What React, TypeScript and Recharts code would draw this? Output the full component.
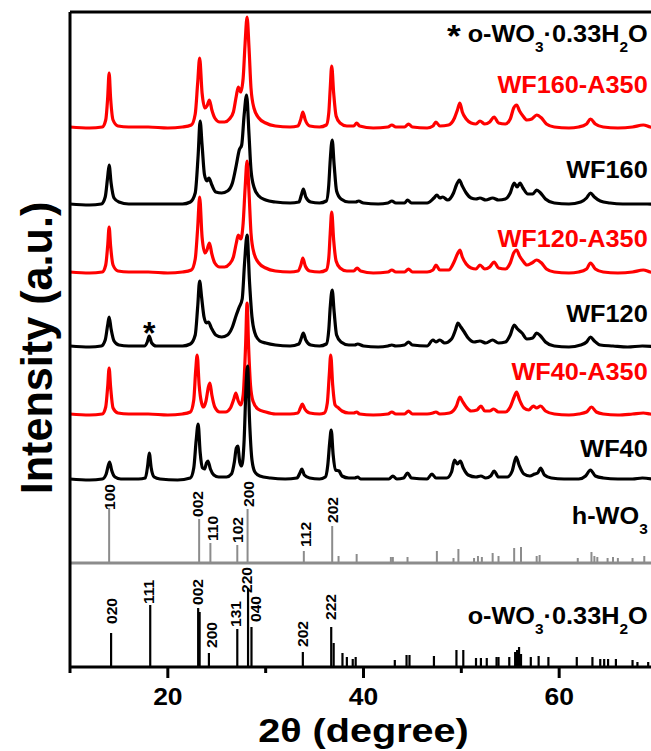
import React from 'react';
import { ComposedChart, Line, XAxis, YAxis, ReferenceLine, ReferenceDot, Label } from 'recharts';

const FONT = '"Liberation Sans", Arial, Helvetica, sans-serif';

// ---- XRD traces: [2θ, intensity above the trace's own baseline] ----
const wf160a350: [number, number][] = [
  [10,1],[12,0],[13.3,1],[13.65,8],[13.85,30],[14.0,55],[14.15,30],[14.4,8],[14.9,2],[16,1],[18,1],[20,0],[21.5,1],[22.4,3],[22.8,14],[23.05,45],[23.25,70],[23.5,35],[23.8,20],[24.0,22],[24.25,28],[24.5,18],[24.8,10],[25.3,6],[25.8,6],[26.3,9],[26.7,16],[27.0,32],[27.2,41],[27.45,36],[27.7,50],[27.9,85],[28.1,111],[28.3,80],[28.5,40],[28.8,20],[29.3,10],[30,5],[31,2],[32.5,1],[33.3,2],[33.6,9],[33.8,16],[34.05,8],[34.5,2],[35.5,1],[36.2,3],[36.45,15],[36.6,40],[36.75,62],[36.95,35],[37.2,12],[37.6,5],[38.3,2],[39.0,2],[39.3,5],[39.6,2],[41,0],[42.5,1],[42.9,3],[43.3,1],[44.2,1],[44.6,4],[45,1],[46.5,0],[47.1,2],[47.4,6],[47.8,2],[48.7,3],[49.3,10],[49.6,18],[49.85,25],[50.1,16],[50.5,9],[51,5],[51.5,4],[51.9,7],[52.4,4],[52.9,6],[53.35,11],[53.8,5],[54.5,4],[55.0,9],[55.35,20],[55.65,23],[55.95,17],[56.3,12],[56.7,8],[57.2,9],[57.7,13],[58.2,10],[58.7,4],[59.5,1],[61,0],[62,1],[62.8,4],[63.2,9],[63.7,4],[64.5,1],[66,0],[67.5,1],[68.6,3],[69.3,1],[70,0],
];
const wf160: [number, number][] = [
  [10,1],[12,0],[13.2,1],[13.6,8],[13.85,28],[14.0,40],[14.2,22],[14.5,7],[15,3],[16,1],[18,1],[20,1],[21.5,1],[22.3,3],[22.8,12],[23.1,50],[23.3,84],[23.5,60],[23.75,30],[24.0,24],[24.2,27],[24.5,20],[24.9,13],[25.5,12],[26.1,14],[26.6,22],[27.0,40],[27.3,55],[27.55,60],[27.8,90],[28.05,110],[28.3,70],[28.5,35],[28.8,18],[29.3,9],[30,5],[31,3],[32.5,2],[33.4,3],[33.65,10],[33.85,16],[34.1,8],[34.6,3],[35.5,2],[36.2,4],[36.45,20],[36.6,45],[36.8,65],[37.0,40],[37.25,14],[37.7,6],[38.5,3],[39.2,3],[39.5,4],[40,2],[41.5,1],[42.5,2],[42.9,4],[43.3,2],[44.2,2],[44.5,5],[44.9,2],[46.5,2],[47.2,7],[47.5,10],[47.8,7],[48.1,8],[48.6,5],[49.2,12],[49.5,20],[49.8,25],[50.1,19],[50.5,12],[51,7],[51.5,6],[51.9,7],[52.5,5],[53.2,7],[53.8,5],[54.5,6],[55.0,12],[55.4,22],[55.7,18],[56.0,22],[56.3,17],[56.8,11],[57.3,11],[57.7,15],[58.1,12],[58.6,6],[59.5,2],[61,1],[62.2,3],[62.8,7],[63.2,12],[63.6,8],[64.2,4],[65.2,2],[66.5,1],[68,1],[69,1],[70,0],
];
const wf120a350: [number, number][] = [
  [10,1],[12,0],[13.3,1],[13.65,8],[13.85,27],[14.0,46],[14.15,27],[14.4,8],[14.9,2],[16,1],[18,1],[20,0],[21.5,1],[22.4,3],[22.8,14],[23.05,45],[23.25,76],[23.5,36],[23.8,20],[24.0,23],[24.25,30],[24.5,19],[24.8,10],[25.3,6],[25.8,6],[26.3,9],[26.7,16],[27.0,30],[27.2,38],[27.45,34],[27.7,50],[27.9,85],[28.1,112],[28.3,80],[28.5,40],[28.8,20],[29.3,10],[30,5],[31,2],[32.5,1],[33.3,2],[33.6,8],[33.8,15],[34.05,7],[34.5,2],[35.5,1],[36.2,3],[36.45,15],[36.6,40],[36.75,61],[36.95,33],[37.2,12],[37.6,5],[38.3,2],[39.0,2],[39.35,5],[39.7,2],[41,0],[42.5,1],[42.9,3],[43.3,1],[44.2,1],[44.6,4],[45,1],[46.5,1],[47.1,3],[47.4,8],[47.8,3],[48.7,3],[49.3,12],[49.6,19],[49.85,23],[50.1,16],[50.5,9],[51,5],[51.5,4],[51.9,8],[52.4,4],[52.9,6],[53.35,11],[53.8,5],[54.5,4],[55.0,10],[55.35,20],[55.65,23],[55.95,17],[56.3,12],[56.7,8],[57.2,10],[57.7,13],[58.2,10],[58.7,4],[59.5,1],[61,0],[62,1],[62.8,4],[63.2,10],[63.7,4],[64.5,1],[66,0],[67.5,1],[68.6,3],[69.3,1],[70,0],
];
const wf120: [number, number][] = [
  [10,1],[12,0],[13.2,1],[13.6,7],[13.85,22],[14.0,30],[14.2,18],[14.5,6],[15,2],[16,1],[17.6,1],[17.9,5],[18.1,11],[18.35,4],[18.8,1],[20,1],[21.5,1],[22.3,3],[22.8,12],[23.05,40],[23.25,66],[23.45,50],[23.7,30],[23.95,24],[24.15,25],[24.45,19],[24.9,12],[25.5,10],[26.1,12],[26.6,20],[27.0,32],[27.3,40],[27.6,48],[27.85,85],[28.1,112],[28.35,65],[28.6,30],[28.9,14],[29.4,6],[30,4],[31,2],[32.5,1],[33.4,3],[33.65,9],[33.85,14],[34.1,7],[34.6,2],[35.5,1],[36.2,3],[36.45,17],[36.6,40],[36.8,57],[37.0,35],[37.25,12],[37.7,5],[38.5,2],[39.1,2],[39.4,3],[40,1],[41.5,0],[42.5,1],[42.9,2],[43.3,1],[44.2,2],[44.6,5],[45,2],[46.5,1],[47.1,7],[47.4,5],[47.8,7],[48.3,4],[49.0,8],[49.4,17],[49.65,24],[49.95,20],[50.3,15],[50.7,9],[51.3,5],[51.9,6],[52.5,4],[53.2,7],[53.8,4],[54.5,5],[55.0,12],[55.4,22],[55.75,18],[56.2,14],[56.7,8],[57.3,9],[57.7,14],[58.1,11],[58.6,5],[59.5,1],[61,0],[62.2,2],[62.8,5],[63.2,10],[63.6,6],[64.2,2],[65.5,1],[67,0],[68.5,1],[70,0],
];
const wf40a350: [number, number][] = [
  [10,1],[12,0],[13.3,1],[13.65,8],[13.85,28],[14.0,47],[14.15,28],[14.4,7],[14.9,2],[16,1],[18,1],[20,0],[21.5,1],[22.3,3],[22.65,15],[22.85,45],[23.0,60],[23.2,30],[23.45,12],[23.65,8],[23.9,14],[24.15,28],[24.3,32],[24.5,20],[24.8,8],[25.3,3],[25.9,3],[26.4,7],[26.75,16],[26.95,22],[27.2,14],[27.45,10],[27.7,20],[27.95,70],[28.1,112],[28.25,70],[28.45,30],[28.7,14],[29.2,6],[30,3],[31,1],[32.5,1],[33.3,2],[33.55,7],[33.75,11],[34.0,6],[34.5,2],[35.5,1],[36.0,2],[36.3,12],[36.5,40],[36.65,60],[36.85,30],[37.1,10],[37.45,7],[37.8,4],[38.5,2],[39.0,2],[39.3,3],[39.6,1],[41,0],[42.5,1],[42.9,3],[43.3,1],[44.2,1],[44.6,4],[45,1],[46.5,1],[47.1,2],[47.4,3],[47.8,1],[48.8,2],[49.5,9],[49.85,18],[50.1,14],[50.5,8],[51,4],[51.6,5],[52.0,9],[52.4,4],[52.9,4],[53.3,6],[53.8,3],[54.5,3],[55.0,8],[55.4,18],[55.65,23],[55.95,15],[56.4,7],[56.9,5],[57.35,9],[57.7,7],[58.1,9],[58.6,4],[59.5,1],[61,0],[62,1],[62.8,3],[63.3,8],[63.8,3],[64.5,1],[66,0],[67.5,1],[68.6,2],[69.3,1],[70,0],
];
const wf40: [number, number][] = [
  [10,1],[12,0],[13.3,1],[13.7,6],[13.9,14],[14.05,18],[14.25,10],[14.6,3],[15.2,1],[17,1],[17.7,2],[17.95,15],[18.1,27],[18.3,12],[18.6,3],[19.2,1],[21,0],[22.3,2],[22.65,12],[22.9,40],[23.1,56],[23.3,28],[23.55,12],[23.75,11],[23.95,17],[24.1,19],[24.35,11],[24.7,5],[25.2,3],[26,3],[26.5,6],[26.8,18],[27.0,32],[27.15,34],[27.35,18],[27.55,14],[27.8,40],[28.0,95],[28.15,114],[28.35,60],[28.6,20],[28.9,8],[29.4,4],[30.5,2],[32,1],[33.2,2],[33.5,7],[33.7,11],[33.95,5],[34.5,2],[35.5,1],[36.1,3],[36.35,15],[36.55,38],[36.7,50],[36.9,25],[37.15,10],[37.5,9],[37.8,4],[38.5,2],[39.1,2],[39.4,3],[39.7,1],[41,1],[42.6,1],[43.0,4],[43.4,1],[44.1,2],[44.5,7],[44.9,2],[46.5,1],[47.0,6],[47.4,2],[48.5,2],[49.0,8],[49.3,20],[49.6,16],[49.9,19],[50.2,12],[50.7,5],[51.5,3],[52.0,4],[52.5,2],[53.0,4],[53.35,9],[53.8,3],[54.7,3],[55.2,9],[55.6,23],[55.9,15],[56.4,6],[57.0,4],[57.5,6],[57.8,7],[58.1,12],[58.5,5],[59.2,2],[60.5,1],[62,1],[62.7,4],[63.2,10],[63.7,4],[64.5,2],[66,1],[67.5,1],[68.5,2],[70,0],
];

const sampleNames = ['WF160-A350', 'WF160', 'WF120-A350', 'WF120', 'WF40-A350', 'WF40'];
const sampleTraces = [wf160a350, wf160, wf120a350, wf120, wf40a350, wf40];
const sampleOffsets = [539, 462, 394, 320, 252, 187];
const sampleLabelLevels = [574, 489, 420, 345, 287, 210];
const sampleColors = ['#ff0000', '#000000', '#ff0000', '#000000', '#ff0000', '#000000'];

// ---- reference stick patterns ----
const hWO3Base = 104;
const hWO3Pos = [14.0, 23.2, 24.35, 27.1, 28.15, 33.9, 36.8, 37.45, 39.3, 42.8, 43.0, 44.5, 47.5, 49.2, 49.7, 51.3, 51.7, 52.1, 53.2, 53.8, 55.4, 56.1, 57.7, 58.0, 61.9, 63.3, 63.6, 63.9, 64.95, 65.5, 66.0, 67.5, 68.7];
const hWO3Int = [55, 44, 20, 18, 54, 12, 37, 7, 9, 6, 6, 6, 12, 5, 14, 5, 7, 6, 10, 7, 15, 16, 7, 8, 5, 11, 7, 6, 5, 6, 5, 5, 7];
const hHkl = ['100', '002', '110', '102', '200', '112', '202'];
const hHklX = [14.03, 23.04, 24.6, 27.1, 28.24, 34.07, 36.83];
const hHklY = [157, 150, 126, 124, 160, 120, 144];

const oWO3Base = 0;
const oWO3Pos = [14.2, 18.2, 23.1, 23.25, 24.2, 27.1, 28.2, 28.55, 33.8, 36.7, 36.95, 37.85, 38.3, 38.9, 39.2, 43.2, 44.4, 44.7, 47.2, 49.5, 50.2, 51.5, 52.0, 52.6, 53.6, 53.8, 54.9, 55.5, 55.7, 55.9, 56.1, 57.1, 57.9, 58.9, 61.8, 63.4, 64.2, 64.6, 65.0, 65.8, 67.5, 68.0, 69.1];
const oWO3Int = [34, 62, 59, 55, 14, 38, 79, 40, 15, 40, 24, 14, 10, 8, 10, 7, 12, 12, 11, 17, 17, 9, 9, 9, 10, 10, 10, 15, 17, 20, 13, 10, 11, 10, 10, 10, 8, 8, 8, 8, 7, 5, 5];
const oHkl = ['020', '111', '002', '200', '131', '220', '040', '202', '222'];
const oHklX = [14.24, 18.0, 23.04, 24.46, 26.9, 28.04, 28.96, 33.77, 36.63];
const oHklY = [43, 63, 62, 19, 40, 74, 45, 20, 47];

const xTicks = [10, 20, 30, 40, 50, 60, 70];
const xMajor = [20, 40, 60];
const LABEL_X = 69.05;
const TOP_LABEL_Y = 625;
const H_LABEL_Y = 143;
const O_LABEL_Y = 43;
const STAR = { x: 18.11, y: 323 };

const SText = ({ x, y, size, sx = 1, rotate = 0, anchor = 'start', fill = '#000', baseline, children }: any) => (
  <text
    transform={`translate(${x},${y}) rotate(${rotate}) scale(${sx},1)`}
    textAnchor={anchor}
    fontFamily={FONT}
    fontWeight="bold"
    fontSize={size}
    fill={fill}
    dominantBaseline={baseline}
  >
    {children}
  </text>
);

const renderTick = (props: any) => {
  const { x, y, payload } = props;
  const major = xMajor.includes(payload.value);
  return (
    <g>
      <line x1={x} x2={x} y1={y} y2={y + (major ? 11 : 6)} stroke="#000" strokeWidth={3} />
      {major && (
        <SText x={x} y={y + 38} size={23} sx={1.15} anchor="middle">
          {payload.value}
        </SText>
      )}
    </g>
  );
};

const renderXTitle = (props: any) => {
  const vb = props.viewBox || {};
  const cx = (vb.x || 0) + (vb.width || 0) / 2;
  return (
    <SText x={cx} y={(vb.y || 0) + 75} size={33} sx={1.2} anchor="middle">
      2θ (degree)
    </SText>
  );
};

const renderYTitle = (props: any) => {
  const vb = props.viewBox || {};
  return (
    <SText x={(vb.x || 0) + 44} y={(vb.y || 0) + 336} size={45} sx={0.96} rotate={-90} anchor="middle">
      Intensity (a.u.)
    </SText>
  );
};

const subDy = 10;

const legendText = (name: string, color: string) => (p: any) => (
  <SText x={p.cx} y={p.cy} size={23} sx={1.1} anchor="end" fill={color}>
    {name}
  </SText>
);

const topLegend = (p: any) => (
  <SText x={p.cx} y={p.cy} size={23} sx={1.1} anchor="end">
    <tspan fontSize={32} dy={5}>*</tspan>
    <tspan dy={-5}> o-WO</tspan>
    <tspan fontSize={14} dy={subDy}>3</tspan>
    <tspan dy={-subDy}>·0.33H</tspan>
    <tspan fontSize={14} dy={subDy}>2</tspan>
    <tspan dy={-subDy}>O</tspan>
  </SText>
);

const hLegend = (p: any) => (
  <SText x={p.cx} y={p.cy} size={23} sx={1.1} anchor="end">
    <tspan>h-WO</tspan>
    <tspan fontSize={14} dy={subDy}>3</tspan>
  </SText>
);

const oLegend = (p: any) => (
  <SText x={p.cx} y={p.cy} size={23} sx={1.1} anchor="end">
    <tspan>o-WO</tspan>
    <tspan fontSize={14} dy={subDy}>3</tspan>
    <tspan dy={-subDy}>·0.33H</tspan>
    <tspan fontSize={14} dy={subDy}>2</tspan>
    <tspan dy={-subDy}>O</tspan>
  </SText>
);

const hklText = (t: string) => (p: any) => (
  <SText x={p.cx} y={p.cy} size={15} sx={1.04} rotate={-90} anchor="start" baseline="central">
    {t}
  </SText>
);

const starShape = (p: any) => (
  <SText x={p.cx} y={p.cy} size={32} anchor="middle">*</SText>
);

export default function App() {
  const lineData = sampleTraces.map((tr, i) => tr.map(([x, y]) => ({ x, y: y + sampleOffsets[i] })));
  return (
    <div style={{ position: 'absolute', left: 0, top: 0, width: 651, height: 751, overflow: 'hidden', background: '#fff' }}>
      <style>{'html, body { overflow: hidden; margin: 0; }'}</style>
      <div style={{ position: 'absolute', left: 8, top: 8 }}>
        <ComposedChart width={670} height={743} margin={{ top: 4, right: 21, bottom: 0, left: 0 }}>
          <XAxis
            type="number"
            dataKey="x"
            domain={[10, 70]}
            ticks={xTicks}
            interval={0}
            allowDataOverflow
            tickLine={false}
            tickSize={0}
            tickMargin={0}
            tick={renderTick}
            axisLine={{ stroke: '#000', strokeWidth: 3 }}
            height={84}
            label={<Label content={renderXTitle} />}
          />
          <YAxis
            type="number"
            domain={[0, 655]}
            allowDataOverflow
            width={62}
            tick={false}
            tickLine={false}
            axisLine={{ stroke: '#000', strokeWidth: 3 }}
            label={<Label content={renderYTitle} />}
          />
          <ReferenceLine y={655} stroke="#000" strokeWidth={3} ifOverflow="visible" />
          <ReferenceLine y={hWO3Base} stroke="#8c8c8c" strokeWidth={3} />
          {hWO3Pos.map((p, i) => (
            <ReferenceLine
              key={`h${i}`}
              segment={[{ x: p, y: hWO3Base }, { x: p, y: hWO3Base + hWO3Int[i] }]}
              stroke="#8c8c8c"
              strokeWidth={2}
            />
          ))}
          {oWO3Pos.map((p, i) => (
            <ReferenceLine
              key={`o${i}`}
              segment={[{ x: p, y: oWO3Base }, { x: p, y: oWO3Base + oWO3Int[i] }]}
              stroke="#000"
              strokeWidth={2.2}
            />
          ))}
          {lineData.map((d, i) => (
            <Line
              key={sampleNames[i]}
              data={d}
              dataKey="y"
              type="monotone"
              dot={false}
              activeDot={false}
              stroke={sampleColors[i]}
              strokeWidth={3.2}
              isAnimationActive={false}
            />
          ))}
          {sampleNames.map((n, i) => (
            <ReferenceDot key={`l${n}`} x={LABEL_X} y={sampleLabelLevels[i]} r={0} shape={legendText(n, sampleColors[i])} />
          ))}
          <ReferenceDot x={LABEL_X} y={TOP_LABEL_Y} r={0} shape={topLegend} />
          <ReferenceDot x={LABEL_X} y={H_LABEL_Y} r={0} shape={hLegend} />
          <ReferenceDot x={LABEL_X} y={O_LABEL_Y} r={0} shape={oLegend} />
          <ReferenceDot x={STAR.x} y={STAR.y} r={0} shape={starShape} />
          {hHkl.map((t, i) => (
            <ReferenceDot key={`hk${i}`} x={hHklX[i]} y={hHklY[i]} r={0} shape={hklText(t)} />
          ))}
          {oHkl.map((t, i) => (
            <ReferenceDot key={`ok${i}`} x={oHklX[i]} y={oHklY[i]} r={0} shape={hklText(t)} />
          ))}
        </ComposedChart>
      </div>
    </div>
  );
}
